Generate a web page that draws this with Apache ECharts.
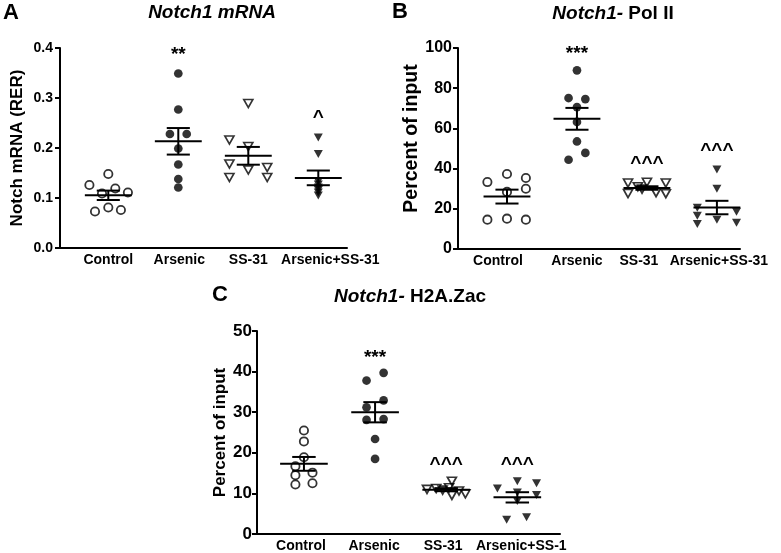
<!DOCTYPE html>
<html>
<head>
<meta charset="utf-8">
<script src="https://cdn.jsdelivr.net/npm/echarts@6/dist/echarts.min.js"></script>
<style>
html,body{margin:0;padding:0;background:#fff;}
#chart{width:781px;height:553px;}
</style>
</head>
<body>
<div id="chart"></div>
<script>
// ---------- categories ----------
const catsAB = ['Control', 'Arsenic', 'SS-31', 'Arsenic+SS-31'];
const catsC  = ['Control', 'Arsenic', 'SS-31', 'Arsenic+SS-1'];

// ---------- Panel A : Notch1 mRNA (RER) ----------
const ctrlA    = [0.148, 0.126, 0.109, 0.119, 0.111, 0.073, 0.081, 0.076];
const ctrlAjit = [0, -0.27, -0.09, 0.10, 0.28, -0.19, 0, 0.18];
const arsA     = [0.349, 0.277, 0.228, 0.228, 0.199, 0.167, 0.138, 0.121];
const arsAjit  = [0, 0, -0.12, 0.12, 0, 0, 0, 0];
const ssA      = [0.289, 0.216, 0.203, 0.168, 0.141, 0.156, 0.161, 0.141];
const ssAjit   = [0, -0.27, 0, -0.27, -0.27, 0, 0.27, 0.27];
const asA      = [0.221, 0.188, 0.133, 0.127, 0.121, 0.116, 0.111, 0.105];
const asAjit   = [0, 0, 0, 0, 0, 0, 0, 0];
const annA     = ['', '**', '', '^'];
const annAy    = [0, 0.386, 0, 0.260];

// ---------- Panel B : Notch1- Pol II (% input) ----------
const ctrlB    = [33.3, 37.3, 35.3, 30.0, 28.4, 14.6, 15.1, 14.6];
const ctrlBjit = [-0.28, 0, 0.27, 0.27, 0, -0.28, 0, 0.27];
const arsB     = [88.9, 75.1, 74.6, 70.6, 63.2, 53.5, 47.8, 44.4];
const arsBjit  = [0, -0.12, 0.12, 0, 0, 0, 0.12, -0.12];
const ssB      = [32.8, 31.0, 33.2, 32.8, 27.6, 29.8, 28.0, 27.5];
const ssBjit   = [-0.27, -0.13, 0, 0.27, -0.27, -0.07, 0.13, 0.27];
const asB      = [39.5, 30.0, 20.5, 16.5, 12.5, 14.5, 18.5, 13.0];
const asBjit   = [0, 0, -0.28, -0.28, -0.28, 0, 0.28, 0.28];
const annB     = ['', '***', '^^^', '^^^'];
const annBy    = [0, 97, 42.5, 49];

// ---------- Panel C : Notch1- H2A.Zac (% input) ----------
const ctrlC    = [25.5, 22.8, 18.9, 16.7, 15.1, 14.5, 12.2, 12.5];
const ctrlCjit = [0, 0, 0, -0.12, 0.12, -0.12, -0.12, 0.12];
const arsC     = [39.7, 37.8, 32.9, 31.2, 28.1, 28.3, 23.4, 18.5];
const arsCjit  = [0.12, -0.12, 0.12, -0.12, -0.12, 0.12, 0, 0];
const ssC      = [11.0, 11.2, 10.8, 11.4, 13.0, 9.5, 10.6, 9.9];
const ssCjit   = [-0.27, -0.14, -0.05, 0.04, 0.08, 0.08, 0.18, 0.27];
const asC      = [11.2, 13.0, 12.5, 10.2, 9.6, 8.1, 3.5, 4.1];
const asCjit   = [-0.28, 0, 0.27, 0, 0.27, 0, -0.15, 0.13];
const annC     = ['', '***', '^^^', '^^^'];
const annCy    = [0, 43.5, 17, 17];

// ---------- helpers ----------
const FONT = 'Arial, "Liberation Sans", sans-serif';
function stats(arr) {
  const n = arr.length;
  const m = arr.reduce((a, b) => a + b, 0) / n;
  const v = arr.reduce((a, b) => a + (b - m) * (b - m), 0) / (n - 1);
  return [m, Math.sqrt(v) / Math.sqrt(n)];
}
const STY = {
  openCircle:  {symbol: 'circle', size: 8.3, rot: 0, item: {color: 'rgba(0,0,0,0)', borderColor: '#000', borderWidth: 1.8}},
  fillCircle:  {symbol: 'circle', size: 8.7, rot: 0, item: {color: '#000'}},
  openTri:     {symbol: 'triangle', size: [9, 8], rot: 180, item: {color: 'rgba(0,0,0,0)', borderColor: '#000', borderWidth: 1.7}},
  fillTri:     {symbol: 'triangle', size: [9, 8], rot: 180, item: {color: '#000'}}
};
function pointSeries(idx, group, vals, jit, sty) {
  const s = STY[sty];
  return {
    type: 'scatter', xAxisIndex: idx, yAxisIndex: idx,
    symbol: s.symbol, symbolSize: s.size, symbolRotate: s.rot,
    itemStyle: s.item, z: 2, silent: true,
    data: vals.map((v, i) => [group + jit[i], v])
  };
}
function semSeries(idx, groups) {
  return {
    type: 'custom', xAxisIndex: idx, yAxisIndex: idx, z: 5, silent: true,
    data: groups.map((g, i) => { const st = stats(g); return [i + 1, st[0], st[1]]; }),
    renderItem: function (params, api) {
      const x = api.value(0), m = api.value(1), s = api.value(2);
      const c = api.coord([x, m]);
      const t = api.coord([x, m + s]);
      const b = api.coord([x, m - s]);
      const hw = api.size([0.335, 0])[0];
      const cw = api.size([0.165, 0])[0];
      const ls = {stroke: '#000', lineWidth: 2};
      return {type: 'group', children: [
        {type: 'line', shape: {x1: c[0] - hw, y1: c[1], x2: c[0] + hw, y2: c[1]}, style: ls},
        {type: 'line', shape: {x1: c[0], y1: t[1], x2: c[0], y2: b[1]}, style: ls},
        {type: 'line', shape: {x1: c[0] - cw, y1: t[1], x2: c[0] + cw, y2: t[1]}, style: ls},
        {type: 'line', shape: {x1: c[0] - cw, y1: b[1], x2: c[0] + cw, y2: b[1]}, style: ls}
      ]};
    }
  };
}
function annSeries(idx, texts, ys) {
  return {
    type: 'custom', xAxisIndex: idx, yAxisIndex: idx, z: 6, silent: true,
    data: texts.map((t, i) => [i + 1, ys[i], t]).filter(d => d[2] !== ''),
    renderItem: function (params, api) {
      const p = api.coord([api.value(0), api.value(1)]);
      return {type: 'text', x: p[0], y: p[1], style: {
        text: api.value(2), font: 'bold 19px ' + FONT, fill: '#000',
        align: 'center', verticalAlign: 'middle', textAlign: 'center', textVerticalAlign: 'middle'}};
    }
  };
}
// horizontal nudges (px) of category labels, as placed in the original figure
function xAxis(idx, min, max, cats, shifts) {
  const rich = {};
  shifts.forEach((s, i) => {
    rich['l' + i] = {color: '#000', fontWeight: 'bold', fontSize: 14, fontFamily: FONT,
      padding: [0, s < 0 ? -2 * s : 0, 0, s > 0 ? 2 * s : 0]};
  });
  return {
    type: 'value', gridIndex: idx, min: min, max: max,
    axisLine: {show: true, onZero: false, lineStyle: {color: '#000', width: 2}},
    axisTick: {show: false}, splitLine: {show: false},
    axisLabel: {customValues: [1, 2, 3, 4],
      formatter: v => { const i = Math.round(v) - 1; return cats[i] ? '{l' + i + '|' + cats[i] + '}' : ''; },
      rich: rich, color: '#000', fontWeight: 'bold', fontSize: 14, fontFamily: FONT, margin: 5}
  };
}
function yAxis(idx, min, max, interval, name, gap, nameSize, dec, labSize, labMargin, namePad) {
  return {
    type: 'value', gridIndex: idx, min: min, max: max, interval: interval,
    axisLine: {show: true, lineStyle: {color: '#000', width: 2}},
    axisTick: {show: true, length: 5, lineStyle: {color: '#000', width: 2}},
    splitLine: {show: false},
    axisLabel: {color: '#000', fontWeight: 'bold', fontSize: labSize, fontFamily: FONT, margin: labMargin,
      formatter: v => v.toFixed(dec)},
    name: name, nameLocation: 'middle', nameGap: gap,
    nameTextStyle: {color: '#000', fontWeight: 'bold', fontSize: nameSize, fontFamily: FONT, padding: namePad}
  };
}

const series = [
  pointSeries(0, 1, ctrlA, ctrlAjit, 'openCircle'),
  pointSeries(0, 2, arsA, arsAjit, 'fillCircle'),
  pointSeries(0, 3, ssA, ssAjit, 'openTri'),
  pointSeries(0, 4, asA, asAjit, 'fillTri'),
  semSeries(0, [ctrlA, arsA, ssA, asA]),
  annSeries(0, annA, annAy),
  pointSeries(1, 1, ctrlB, ctrlBjit, 'openCircle'),
  pointSeries(1, 2, arsB, arsBjit, 'fillCircle'),
  pointSeries(1, 3, ssB, ssBjit, 'openTri'),
  pointSeries(1, 4, asB, asBjit, 'fillTri'),
  semSeries(1, [ctrlB, arsB, ssB, asB]),
  annSeries(1, annB, annBy),
  pointSeries(2, 1, ctrlC, ctrlCjit, 'openCircle'),
  pointSeries(2, 2, arsC, arsCjit, 'fillCircle'),
  pointSeries(2, 3, ssC, ssCjit, 'openTri'),
  pointSeries(2, 4, asC, asCjit, 'fillTri'),
  semSeries(2, [ctrlC, arsC, ssC, asC]),
  annSeries(2, annC, annCy)
];

function txt(x, y, text, rich, font, align) {
  return {type: 'text', x: x, y: y, silent: true, style: {
    text: text, rich: rich, font: font, fill: '#000',
    align: align, verticalAlign: 'middle', textAlign: align, textVerticalAlign: 'middle'}};
}
const richT = {
  i: {fontStyle: 'italic', fontWeight: 'bold', fontSize: 19, fontFamily: FONT, color: '#000'},
  b: {fontWeight: 'bold', fontSize: 19, fontFamily: FONT, color: '#000'}
};

const option = {
  animation: false,
  backgroundColor: '#fff',
  grid: [
    {left: 60, top: 48, width: 287, height: 200},
    {left: 458, top: 48, width: 282, height: 201},
    {left: 257, top: 331, width: 303, height: 204}
  ],
  xAxis: [
    xAxis(0, 0.31, 4.41, catsAB, [0, 1, 0, 12]),
    xAxis(1, 0.3, 4.33, catsAB, [-9, 0, -8, 2]),
    xAxis(2, 0.34, 4.6, catsC, [-3, -1, -3, 4])
  ],
  yAxis: [
    yAxis(0, 0, 0.4, 0.1, 'Notch mRNA (RER)', 34, 17, 1, 14, 7, [0, 0, 0, 0]),
    yAxis(1, 0, 100, 20, 'Percent of input', 28, 19.5, 0, 16, 6, [0, 0, 0, 20]),
    yAxis(2, 0, 50, 10, 'Percent of input', 27, 17, 0, 17, 5, [0, 0, 0, 0])
  ],
  series: series,
  graphic: [
    txt(3, 13, 'A', null, 'bold 22px ' + FONT, 'left'),
    txt(212, 13, '{i|Notch1 mRNA}', richT, 'bold 19px ' + FONT, 'center'),
    txt(392, 12, 'B', null, 'bold 22px ' + FONT, 'left'),
    txt(613, 14, '{i|Notch1-}{b| Pol II}', richT, 'bold 19px ' + FONT, 'center'),
    txt(212, 295, 'C', null, 'bold 22px ' + FONT, 'left'),
    txt(410, 297, '{i|Notch1-}{b| H2A.Zac}', richT, 'bold 19px ' + FONT, 'center')
  ]
};
const chart = echarts.init(document.getElementById('chart'), null, {renderer: 'canvas'});
chart.setOption(option);
</script>
</body>
</html>
